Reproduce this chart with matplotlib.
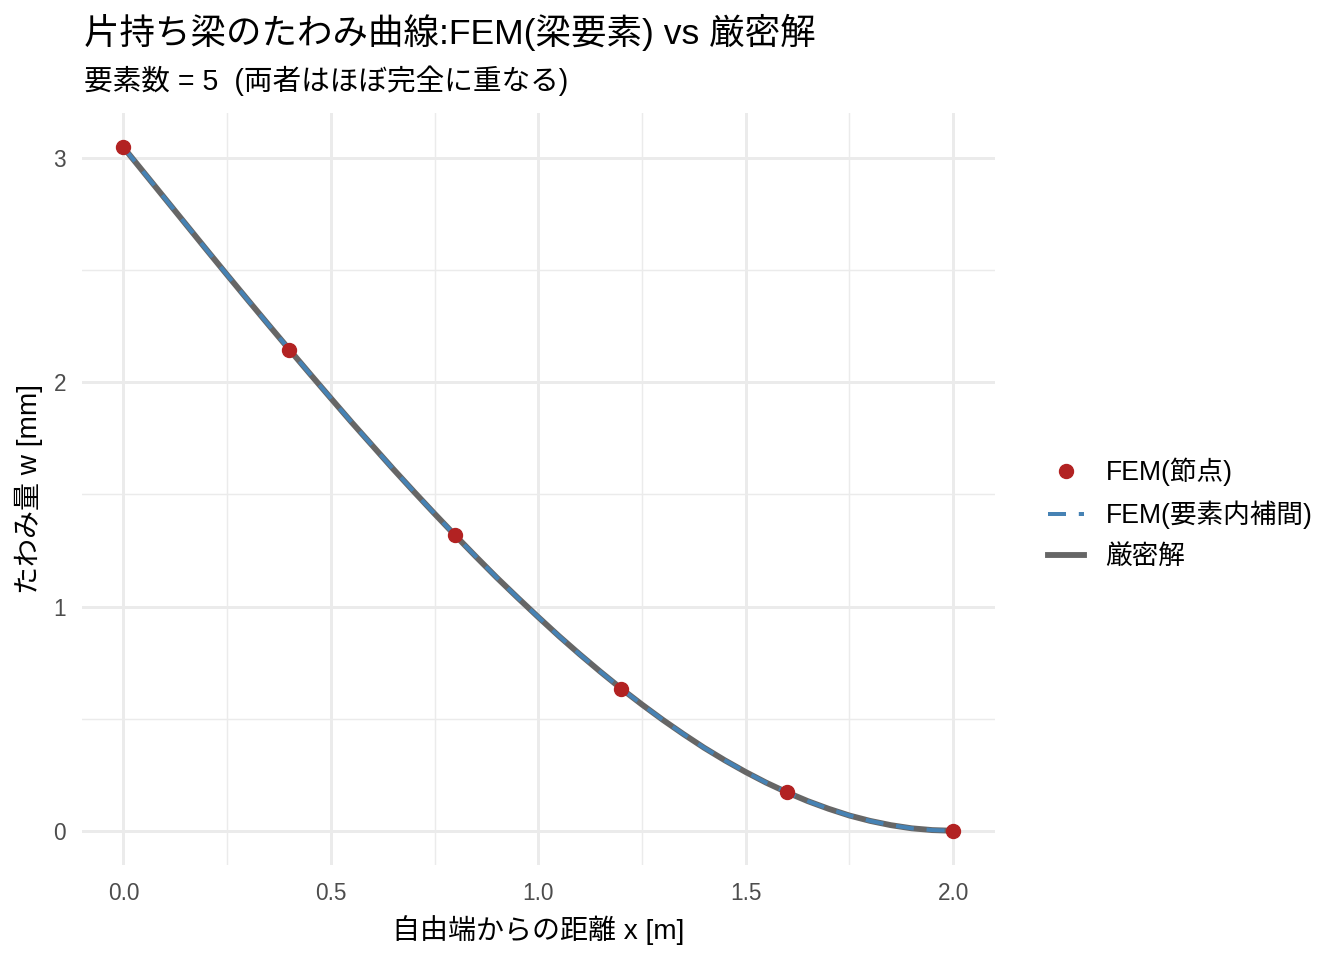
import matplotlib.pyplot as plt
from matplotlib.lines import Line2D

plt.rcParams['font.family'] = ['Liberation Sans', 'Noto Sans CJK JP', 'DejaVu Sans']

# 節点 (FEM)
node_x = [0.0, 0.4, 0.8, 1.2, 1.6, 2.0]
node_w = [3.048, 2.146, 1.317, 0.634, 0.171, 0.0]

# 曲線 (読み取り値)
curve_x = [0.0, 0.05, 0.1, 0.15, 0.2, 0.25, 0.3, 0.35, 0.4, 0.45, 0.5,
           0.55, 0.6, 0.65, 0.7, 0.75, 0.8, 0.85, 0.9, 0.95, 1.0,
           1.05, 1.1, 1.15, 1.2, 1.25, 1.3, 1.35, 1.4, 1.45, 1.5,
           1.55, 1.6, 1.65, 1.7, 1.75, 1.8, 1.85, 1.9, 1.95, 2.0]
exact_w = [3.048, 2.934, 2.820, 2.706, 2.592, 2.479, 2.367, 2.256, 2.146, 2.037, 1.929,
           1.822, 1.718, 1.614, 1.513, 1.414, 1.317, 1.222, 1.129, 1.040, 0.953,
           0.868, 0.787, 0.709, 0.634, 0.563, 0.495, 0.431, 0.370, 0.314, 0.262,
           0.214, 0.171, 0.132, 0.098, 0.068, 0.044, 0.025, 0.011, 0.003, 0.0]
fem_w = list(exact_w)

fig = plt.figure(figsize=(14, 10), dpi=96)
ax = fig.add_axes([0.061, 0.099, 0.679, 0.783])

ax.plot(curve_x, exact_w, color='#666666', lw=4.4, solid_capstyle='butt', zorder=3)
ax.plot(curve_x, fem_w, color='#4682B4', lw=3.0, dashes=(4.5, 3.2), zorder=4)
ax.plot(node_x, node_w, 'o', color='#B22222', ms=10.5, zorder=5)

ax.set_xlim(-0.1, 2.1)
ax.set_ylim(-0.1525, 3.2)
ax.set_xticks([0.0, 0.5, 1.0, 1.5, 2.0])
ax.set_xticklabels(['0.0', '0.5', '1.0', '1.5', '2.0'])
ax.set_yticks([0, 1, 2, 3])
ax.set_xticks([0.25, 0.75, 1.25, 1.75], minor=True)
ax.set_yticks([0.5, 1.5, 2.5], minor=True)
ax.grid(which='major', color='#EBEBEB', lw=2.2)
ax.grid(which='minor', color='#EBEBEB', lw=1.1)
ax.set_axisbelow(True)
for s in ax.spines.values():
    s.set_visible(False)
ax.tick_params(which='both', length=0, labelsize=17, labelcolor='#4D4D4D')
ax.tick_params(axis='x', pad=13)
ax.tick_params(axis='y', pad=12)

ax.set_xlabel('自由端からの距離 x [m]', fontsize=21, labelpad=7)
ax.set_ylabel('たわみ量 w [mm]', fontsize=21, labelpad=8)

fig.text(0.0625, 0.966, '片持ち梁のたわみ曲線:FEM(梁要素) vs 厳密解', fontsize=26.6, va='center')
fig.text(0.0625, 0.916, '要素数 = 5  (両者はほぼ完全に重なる)', fontsize=21.5, va='center')

handles = [
    Line2D([], [], ls='none', marker='o', color='#B22222', ms=10.5),
    Line2D([], [], color='#4682B4', lw=3.0, dashes=(4.5, 3.2)),
    Line2D([], [], color='#666666', lw=4.4),
]
labels = ['FEM(節点)', 'FEM(要素内補間)', '厳密解']
fig.legend(handles, labels, loc='center left', bbox_to_anchor=(0.7798, 0.4646),
           frameon=False, fontsize=20, handlelength=1.35, handletextpad=0.8,
           labelspacing=0.55, borderpad=0, borderaxespad=0)

fig.savefig('out.png', dpi=96)
